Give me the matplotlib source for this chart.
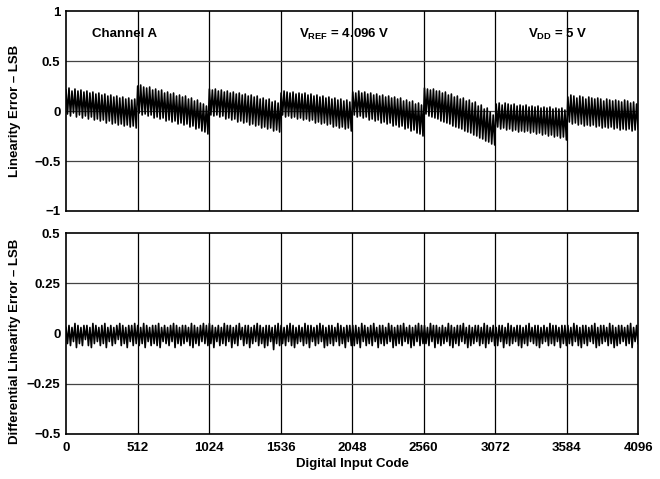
import numpy as np
import matplotlib
matplotlib.use("Agg")
import matplotlib.pyplot as plt

plt.rcParams["font.family"] = ["Liberation Sans", "DejaVu Sans"]
plt.rcParams["font.weight"] = "bold"
plt.rcParams["axes.labelweight"] = "bold"
plt.rcParams["mathtext.fontset"] = "custom"
plt.rcParams["mathtext.rm"] = "Liberation Sans:bold"
plt.rcParams["mathtext.it"] = "Liberation Sans:bold"
plt.rcParams["mathtext.bf"] = "Liberation Sans:bold"

# INL, hundredths of LSB, 24 peaks / 24 valleys per 512-code segment
inl_peaks = [
    21, 23, 20, 22, 20, 21, 19, 20, 18, 19, 17, 18, 16, 17, 15, 16, 14, 15, 13, 14, 12, 13, 11, 12,
    25, 26, 24, 23, 24, 21, 22, 20, 21, 18, 19, 17, 18, 15, 16, 14, 15, 12, 13, 10, 11, 8, 7, 5,
    22, 21, 22, 20, 21, 19, 20, 18, 19, 17, 18, 16, 17, 15, 16, 14, 15, 12, 13, 11, 12, 9, 10, 8,
    18, 20, 19, 18, 19, 17, 18, 17, 18, 16, 17, 15, 16, 14, 15, 13, 14, 12, 13, 11, 12, 10, 11, 9,
    19, 18, 20, 18, 19, 17, 18, 16, 17, 15, 16, 14, 15, 13, 14, 12, 13, 10, 11, 9, 10, 7, 8, 6,
    23, 22, 21, 22, 20, 20, 18, 19, 16, 17, 14, 15, 12, 13, 10, 11, 8, 9, 5, 6, 2, 3, -1, -4,
    7, 8, 6, 8, 7, 6, 7, 5, 6, 5, 6, 4, 5, 4, 5, 3, 4, 3, 4, 2, 3, 2, 3, 1,
    14, 16, 15, 13, 15, 14, 12, 14, 13, 12, 13, 12, 10, 12, 11, 10, 11, 10, 9, 11, 10, 8, 9, 7,
]
inl_valleys = [
    -3, -5, -2, -6, -4, -7, -5, -8, -6, -9, -8, -10, -9, -12, -10, -13, -12, -14, -13, -15, -14, -16, -15, -17,
    -2, -4, -3, -5, -4, -7, -6, -8, -7, -10, -9, -11, -10, -13, -12, -14, -13, -16, -15, -18, -17, -20, -21, -23,
    -4, -5, -4, -6, -5, -8, -7, -9, -8, -11, -10, -12, -11, -14, -13, -15, -14, -17, -16, -18, -17, -20, -19, -21,
    -4, -6, -5, -7, -6, -8, -7, -9, -8, -10, -9, -12, -11, -13, -12, -14, -13, -16, -15, -17, -16, -18, -17, -20,
    -4, -6, -5, -7, -6, -9, -8, -10, -9, -12, -11, -13, -12, -15, -14, -16, -15, -18, -17, -20, -19, -22, -23, -25,
    -3, -5, -6, -7, -8, -10, -11, -12, -13, -15, -16, -17, -18, -20, -21, -22, -24, -25, -27, -28, -30, -31, -33, -34,
    -16, -18, -17, -19, -18, -20, -19, -21, -20, -21, -20, -22, -21, -23, -22, -24, -23, -25, -24, -26, -25, -27, -26, -29,
    -11, -13, -12, -14, -13, -15, -14, -15, -14, -16, -15, -17, -16, -17, -16, -18, -17, -19, -18, -19, -18, -20, -19, -18,
]

# DNL, hundredths of LSB
dnl_peaks = [
    3, 4, 3, 5, 4, 3, 4, 4, 3, 5, 4, 3, 4, 5, 3, 4, 3, 4, 5, 4, 3, 4, 4, 5,
    4, 3, 5, 4, 3, 4, 4, 5, 3, 4, 3, 4, 5, 4, 3, 4, 4, 3, 5, 4, 3, 4, 5, 4,
    5, 4, 3, 4, 3, 5, 4, 4, 3, 4, 5, 3, 4, 4, 3, 4, 5, 4, 3, 4, 4, 3, 4, 5,
    4, 3, 4, 5, 4, 3, 4, 3, 5, 4, 4, 3, 4, 5, 4, 3, 4, 4, 3, 5, 4, 3, 4, 4,
    4, 4, 3, 5, 4, 3, 4, 5, 3, 4, 4, 3, 5, 4, 3, 4, 4, 5, 3, 4, 3, 4, 5, 4,
    4, 3, 5, 4, 4, 3, 4, 3, 5, 4, 3, 4, 4, 5, 3, 4, 3, 4, 4, 3, 5, 4, 3, 4,
    3, 4, 4, 3, 5, 4, 3, 4, 4, 3, 4, 5, 3, 4, 4, 3, 4, 3, 5, 4, 4, 3, 4, 4,
    4, 3, 5, 4, 3, 4, 4, 3, 4, 5, 3, 4, 4, 3, 5, 4, 3, 4, 4, 3, 4, 5, 3, 4,
]
dnl_valleys = [
    -5, -6, -4, -7, -5, -6, -3, -6, -7, -5, -4, -6, -5, -7, -4, -6, -5, -3, -6, -5, -7, -4, -6, -5,
    -6, -5, -7, -4, -6, -5, -6, -7, -4, -5, -6, -4, -7, -5, -6, -5, -4, -6, -7, -5, -6, -4, -5, -6,
    -5, -7, -4, -6, -5, -6, -4, -7, -5, -6, -3, -6, -5, -7, -5, -4, -6, -5, -7, -6, -4, -8, -5, -6,
    -5, -6, -4, -6, -7, -5, -4, -6, -5, -7, -4, -6, -5, -4, -7, -6, -5, -6, -4, -6, -5, -7, -4, -6,
    -6, -5, -7, -4, -6, -5, -6, -4, -7, -5, -6, -5, -4, -7, -6, -5, -6, -4, -5, -7, -6, -4, -6, -5,
    -5, -6, -4, -7, -5, -6, -5, -4, -6, -7, -5, -6, -4, -5, -7, -6, -5, -4, -6, -5, -7, -5, -4, -6,
    -6, -4, -7, -5, -6, -5, -4, -6, -7, -5, -6, -4, -5, -6, -7, -5, -4, -6, -5, -6, -4, -7, -5, -6,
    -5, -6, -4, -6, -7, -5, -6, -4, -5, -7, -6, -5, -4, -6, -5, -7, -6, -5, -4, -6, -5, -7, -4, -5,
]

x_ticks = [0, 512, 1024, 1536, 2048, 2560, 3072, 3584, 4096]
inl_yticks = [-1, -0.5, 0, 0.5, 1]
dnl_yticks = [-0.5, -0.25, 0, 0.25, 0.5]

# interleave peaks and valleys into one trace
inl = np.column_stack([inl_peaks, inl_valleys]).ravel() / 100
dnl = np.column_stack([dnl_peaks, dnl_valleys]).ravel() / 100
codes = np.linspace(0, 4095, len(inl))

fs = 9.5
fig = plt.figure(figsize=(6.6, 4.79), dpi=100)
ax1 = fig.add_axes([0.1, 0.5595, 0.867, 0.4175])
ax2 = fig.add_axes([0.1, 0.094, 0.867, 0.4195])


def style(ax, yticks, labels):
    ax.set_xlim(0, 4096)
    ax.set_ylim(yticks[0], yticks[-1])
    ax.set_xticks(x_ticks)
    ax.set_yticks(yticks)
    ax.set_yticklabels(labels)
    ax.tick_params(length=0, labelsize=fs, pad=4)
    ax.tick_params(axis="x", pad=6)
    for x in x_ticks[1:-1]:
        ax.axvline(x, color="black", lw=0.9, zorder=1)
    for y in yticks[1:-1]:
        ax.axhline(y, color="#444444", lw=0.9, zorder=1)
    for s in ax.spines.values():
        s.set_linewidth(1.2)


style(ax1, inl_yticks, ["\u22121", "\u22120.5", "0", "0.5", "1"])
style(ax2, dnl_yticks, ["\u22120.5", "\u22120.25", "0", "0.25", "0.5"])
ax1.set_xticklabels([])

ax1.plot(codes, inl, color="black", lw=1.2, zorder=3)
ax2.plot(codes, dnl, color="black", lw=1.2, zorder=3)

ax1.text(422, 0.77, "Channel A", ha="center", va="center", fontsize=fs)
ax1.text(1990, 0.77, r"V$_{REF}$ = 4.096 V", ha="center", va="center", fontsize=fs)
ax1.text(3520, 0.77, r"V$_{DD}$ = 5 V", ha="center", va="center", fontsize=fs)

ax1.set_ylabel("Linearity Error \u2013 LSB", fontsize=fs)
ax2.set_ylabel("Differential Linearity Error \u2013 LSB", fontsize=fs)
ax1.yaxis.set_label_coords(-0.079, 0.5)
ax2.yaxis.set_label_coords(-0.079, 0.46)
ax2.set_xlabel("Digital Input Code", fontsize=fs, labelpad=3)

fig.savefig("out.png", dpi=100)
